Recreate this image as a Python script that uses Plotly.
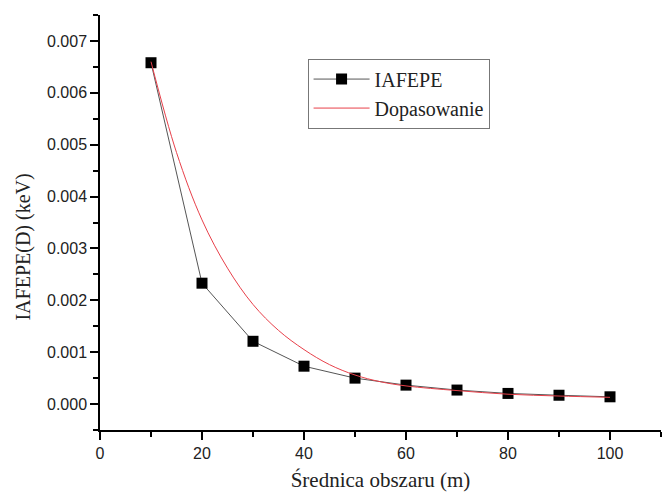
import plotly.graph_objects as go

# Data
x_data = [10, 20, 30, 40, 50, 60, 70, 80, 90, 100]
y_data = [0.00658, 0.00233, 0.00121, 0.00073, 0.00050, 0.000365, 0.00027, 0.000205, 0.00017, 0.00014]

x_fit = [10, 15, 20, 25, 30, 35, 40, 45, 50, 55, 60, 70, 80, 90, 100]
y_fit = [0.00660, 0.00485, 0.00355, 0.00262, 0.00192, 0.00142, 0.00105, 0.00076, 0.00056, 0.00043,
         0.00035, 0.00026, 0.00019, 0.000155, 0.00013]

x_ticks = [0, 20, 40, 60, 80, 100]
y_ticks = [0.000, 0.001, 0.002, 0.003, 0.004, 0.005, 0.006, 0.007]

fig = go.Figure()
fig.add_trace(go.Scatter(
    x=x_data, y=y_data, mode="lines+markers", name="IAFEPE",
    line=dict(color="#555555", width=1),
    marker=dict(symbol="square", size=11, color="black"),
))
fig.add_trace(go.Scatter(
    x=x_fit, y=y_fit, mode="lines", name="Dopasowanie",
    line=dict(color="#e8404a", width=1, shape="spline", smoothing=1.0),
))

axis_common = dict(
    showgrid=False, zeroline=False, showline=True, linecolor="black", linewidth=1.5,
    ticks="outside", ticklen=8, tickwidth=1.5, tickcolor="black",
    tickfont=dict(family="Liberation Sans, Arial", size=16, color="#222222"),
    mirror=False,
)

fig.update_layout(
    width=662, height=492,
    margin=dict(l=100, r=1, t=15, b=62),
    plot_bgcolor="white", paper_bgcolor="white",
    showlegend=True,
    legend=dict(
        x=0.37, y=0.895, xanchor="left", yanchor="top",
        bordercolor="#777777", borderwidth=1, bgcolor="white",
        font=dict(family="Liberation Serif, Times New Roman", size=20, color="#222222"),
        tracegroupgap=0, itemwidth=56,
    ),
    xaxis=dict(
        range=[0, 110], tickvals=x_ticks, ticktext=[str(v) for v in x_ticks],
        minor=dict(dtick=10, ticklen=5, tickwidth=1.5, tickcolor="black", ticks="outside"),
        title=dict(text="Średnica obszaru (m)", standoff=15,
                   font=dict(family="Liberation Serif, Times New Roman", size=21, color="#222222")),
        **axis_common,
    ),
    yaxis=dict(
        range=[-0.0005, 0.0075], tickvals=y_ticks, ticktext=[f"{v:.3f}" for v in y_ticks],
        minor=dict(dtick=0.0005, tick0=0, ticklen=5, tickwidth=1.5, tickcolor="black", ticks="outside"),
        **axis_common,
    ),
    annotations=[dict(
        text="IAFEPE(D) (keV)", textangle=-90, showarrow=False,
        xref="paper", yref="paper", x=-0.137, y=0.44, xanchor="center", yanchor="middle",
        font=dict(family="Liberation Serif, Times New Roman", size=20, color="#222222"),
    )],
)

fig.write_html("out.html")
